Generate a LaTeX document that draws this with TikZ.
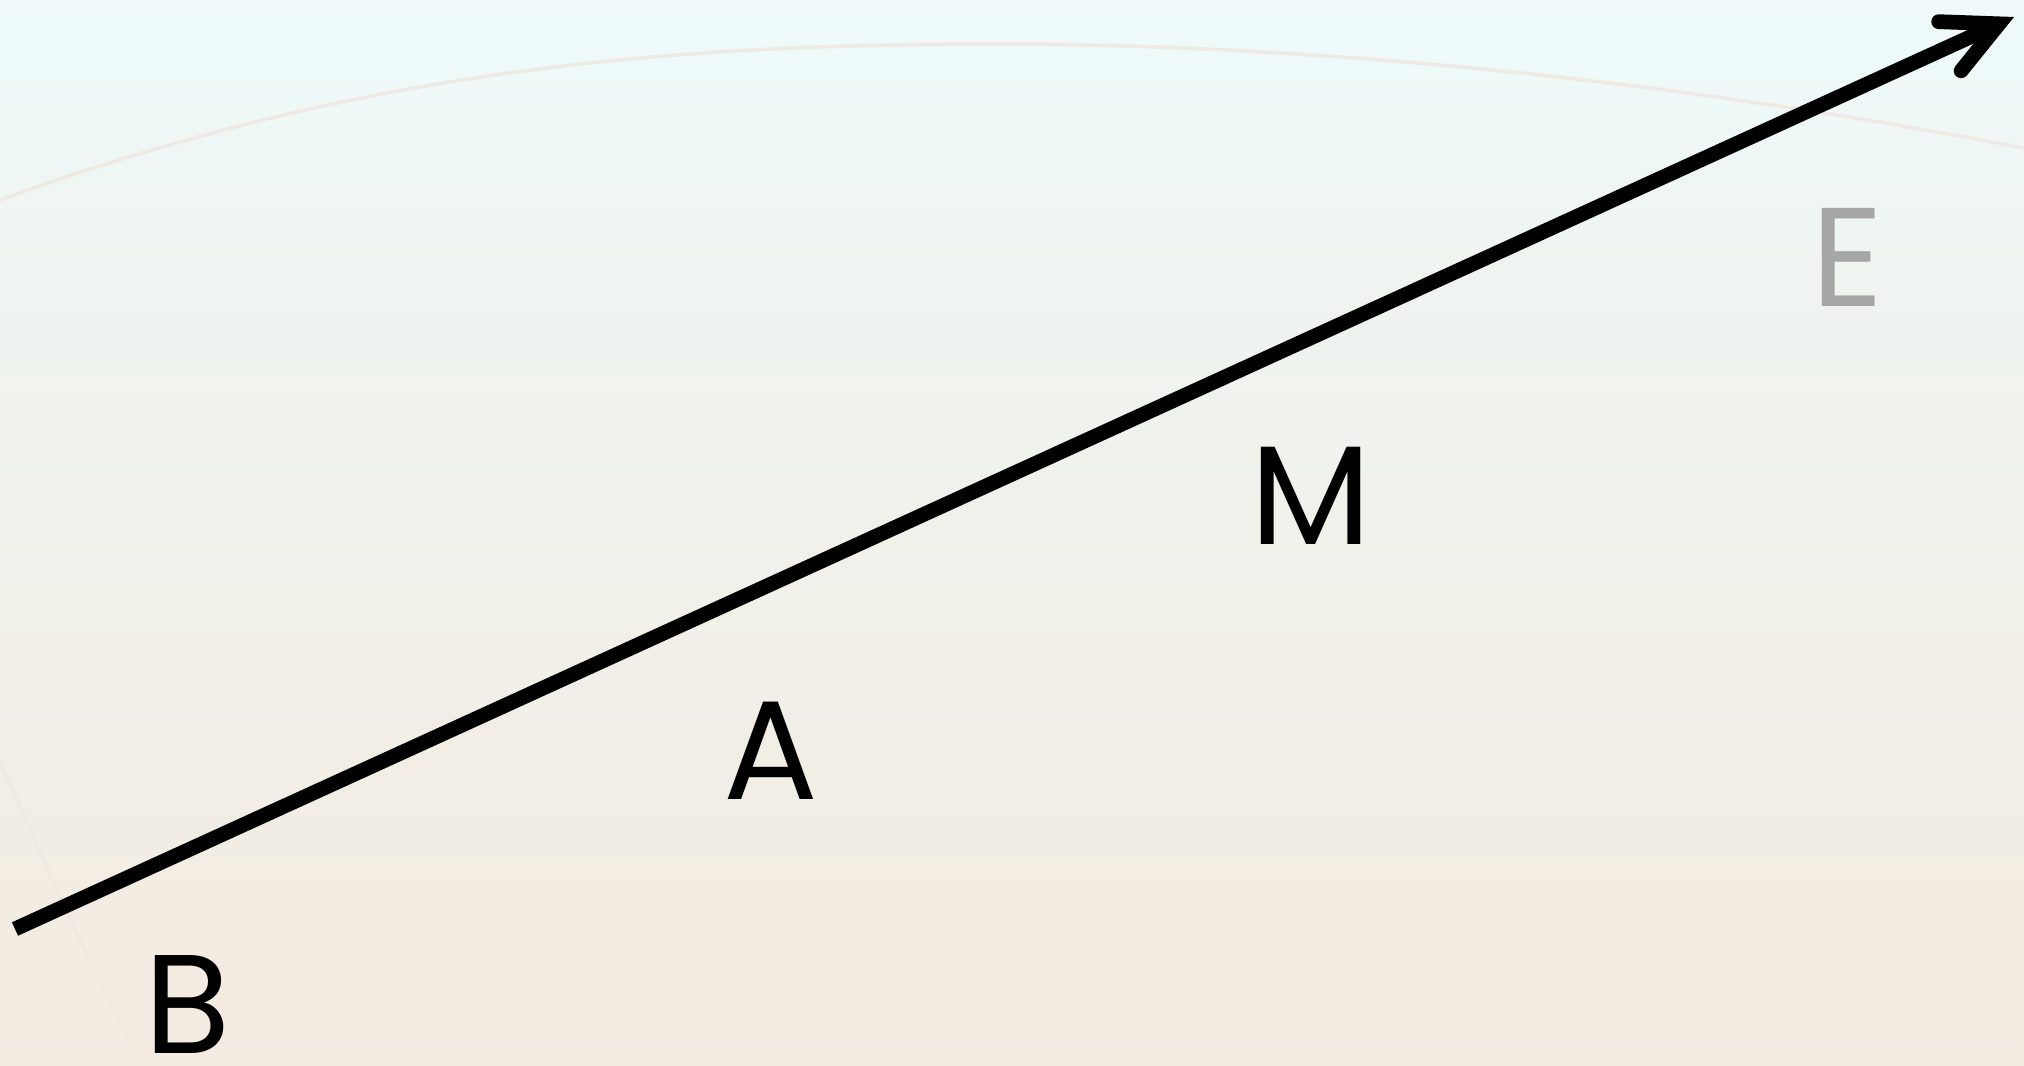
\documentclass[tikz,border=0pt]{standalone}
\usepackage{fontspec}
\setmainfont{Poppins}
\usepackage{tikz}
\usetikzlibrary{arrows.meta}
\definecolor{skytop}{RGB}{238,249,249}
\definecolor{sandbot}{RGB}{241,232,220}
\definecolor{faintarc}{RGB}{238,234,226}
\definecolor{labelgray}{HTML}{A6A6A6}
\pgfdeclareverticalshading{skysand}{100bp}{
  color(0bp)=(sandbot); color(30bp)=(sandbot!85!white); color(62bp)=(skytop!70!sandbot);
  color(72bp)=(skytop); color(100bp)=(skytop!60!white)}
\tikzstyle{letter} = [font=\fontsize{40}{40}\selectfont, inner sep=0pt]
\tikzstyle{vectorstyle} = [-{Straight Barb[length=5.4mm, width=5.4mm, line cap=round]}, line width=4.2pt, black]

\begin{document}
\begin{tikzpicture}

% --- Background ---
\shade[shading=skysand] (0,0) rectangle (20.24,10.65);
\useasboundingbox (0,0) rectangle (20.24,10.65);
\draw[faintarc, line width=1pt] (0,8.65) .. controls (3.6,9.95) and (6.6,10.22) .. (10.2,10.21)
  .. controls (13.8,10.18) and (17.2,9.75) .. (20.24,9.17);
\draw[faintarc, line width=1pt] (0,3.03) .. controls (0.5,1.9) and (0.9,1.0) .. (1.42,0);

% --- Points ---
\coordinate (start) at (0.15,1.36);
\coordinate (tip) at (20.14,10.48);

% --- Labels ---
\node[letter] (B) at (1.88,0.60) {B};
\node[letter] (A) at (7.71,3.14) {A};
\node[letter] (M) at (13.11,5.69) {M};
\node[letter, text=labelgray] (E) at (18.48,8.08) {E};

% --- Vector ---
\draw[vectorstyle] (start) -- (tip);

\end{tikzpicture}
\end{document}
